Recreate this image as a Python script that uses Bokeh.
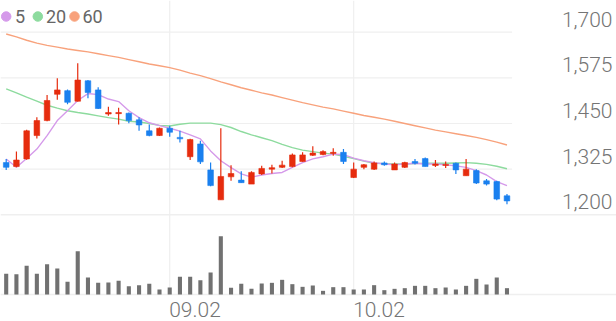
from bokeh.plotting import figure
from bokeh.models import ColumnDataSource, Range1d
from bokeh.core.properties import value
from bokeh.embed import file_html
from bokeh.resources import INLINE

# ---------------- data ----------------
open_ = [1343, 1332, 1353, 1417, 1458, 1530, 1540, 1511, 1567, 1542, 1476, 1477, 1478, 1460, 1430, 1417, 1437, 1412, 1359, 1394,
         1323, 1241, 1304, 1295, 1284, 1312, 1325, 1330, 1332, 1346, 1363, 1365, 1368, 1371, 1302, 1330, 1325, 1342, 1323, 1330,
         1346, 1354, 1335, 1335, 1341, 1307, 1321, 1293, 1291, 1252]
high = [1353, 1373, 1433, 1467, 1528, 1574, 1543, 1615, 1569, 1549, 1496, 1493, 1480, 1467, 1447, 1439, 1444, 1430, 1408, 1403,
        1343, 1437, 1336, 1319, 1319, 1334, 1337, 1348, 1368, 1371, 1388, 1377, 1382, 1380, 1343, 1339, 1346, 1346, 1343, 1345,
        1353, 1357, 1350, 1346, 1343, 1353, 1325, 1298, 1293, 1257]
low = [1323, 1330, 1351, 1409, 1456, 1515, 1503, 1510, 1519, 1490, 1471, 1447, 1451, 1430, 1415, 1416, 1414, 1398, 1350, 1339,
       1278, 1241, 1293, 1288, 1284, 1309, 1313, 1328, 1330, 1345, 1361, 1363, 1362, 1339, 1301, 1325, 1323, 1334, 1323, 1328,
       1338, 1332, 1331, 1328, 1312, 1307, 1284, 1280, 1240, 1229]
close = [1330, 1350, 1430, 1458, 1513, 1542, 1508, 1569, 1535, 1491, 1480, 1480, 1458, 1446, 1417, 1437, 1426, 1408, 1406, 1345,
         1280, 1305, 1313, 1288, 1316, 1327, 1329, 1336, 1364, 1364, 1369, 1373, 1371, 1346, 1325, 1337, 1342, 1337, 1339, 1343,
         1341, 1332, 1339, 1338, 1323, 1325, 1287, 1284, 1243, 1238]
volume = [62, 61, 86, 62, 91, 78, 38, 130, 51, 35, 36, 41, 25, 28, 32, 15, 21, 53, 53, 43,
          66, 175, 20, 32, 17, 33, 35, 44, 31, 23, 27, 11, 22, 22, 15, 15, 28, 13, 17, 19,
          26, 26, 19, 21, 15, 26, 47, 30, 51, 19]
ma5 = [1353, 1330, 1354, 1380, 1417, 1458, 1485, 1513, 1532, 1529, 1517, 1510, 1485, 1466, 1452, 1444, 1437, 1429, 1419, 1408,
       1375, 1348, 1329, 1312, 1303, 1309, 1313, 1316, 1330, 1343, 1353, 1359, 1366, 1365, 1355, 1348, 1343, 1339, 1337, 1339,
       1341, 1339, 1339, 1337, 1334, 1330, 1321, 1309, 1291, 1280]
ma20 = [1545, 1534, 1522, 1511, 1500, 1492, 1485, 1480, 1476, 1471, 1466, 1462, 1456, 1454, 1450, 1445, 1443, 1448, 1451, 1451,
        1451, 1447, 1439, 1428, 1419, 1411, 1403, 1393, 1384, 1377, 1373, 1369, 1366, 1360, 1354, 1347, 1341, 1340, 1339, 1339,
        1340, 1341, 1341, 1341, 1342, 1343, 1341, 1338, 1333, 1326]
ma60 = [1695, 1687, 1678, 1670, 1664, 1659, 1654, 1650, 1646, 1641, 1636, 1631, 1625, 1619, 1613, 1608, 1603, 1596, 1588, 1581,
        1573, 1564, 1556, 1548, 1541, 1534, 1528, 1521, 1514, 1507, 1501, 1495, 1490, 1484, 1478, 1472, 1467, 1462, 1456, 1450,
        1444, 1438, 1432, 1427, 1422, 1417, 1412, 1406, 1399, 1391]
price_ticks = [1200, 1325, 1450, 1575, 1700]
price_labels = ["1,200", "1,325", "1,450", "1,575", "1,700"]
date_ticks = [16, 34]
date_labels = ["09.02", "10.02"]
ma_names = ["5", "20", "60"]

# ---------------- styling / layout ----------------
W, H = 616, 321
UP, DOWN = "#e62c0e", "#1a80ef"
MA_COLORS = ["#d59aea", "#8ddb9e", "#f8a27c"]
GRID = "#efefef"
LABEL = "#757575"
FONT = "Roboto"
FONT_LIGHT = "Roboto Light, Roboto"

X0, DX = 5.7, 10.22            # pixel of first candle, pixels per candle
Y_BASE_PRICE, PX_PER_STEP = 214.3, 45.65   # 1,200 line pixel, pixels per 125
PRICE_PER_PX = 125 / PX_PER_STEP
VOL_BASE_PX, VOL_PER_PX = 294.0, 3.0


def xd(px):
    return (px - X0) / DX


def pd_(py):
    return 1200 + (Y_BASE_PRICE - py) * PRICE_PER_PX


def vd(py):
    return (VOL_BASE_PX - py) * VOL_PER_PX


n = len(close)
idx = list(range(n))
colors = [UP if c >= o else DOWN for o, c in zip(open_, close)]
src = ColumnDataSource(dict(x=idx, open=open_, high=high, low=low, close=close,
                            top=[max(o, c) for o, c in zip(open_, close)],
                            bottom=[min(o, c) for o, c in zip(open_, close)],
                            color=colors, vol=volume,
                            ma5=ma5, ma20=ma20, ma60=ma60))

p = figure(width=W, height=H, output_backend="svg", toolbar_location=None,
           x_axis_type=None, y_axis_type=None,
           x_range=Range1d(xd(0), xd(W)), y_range=Range1d(pd_(H), pd_(0)),
           min_border=0, min_border_left=0, min_border_right=0,
           min_border_top=0, min_border_bottom=0)
p.extra_y_ranges = {"vol": Range1d(vd(H), vd(0))}
p.outline_line_color = None
p.grid.visible = False
p.background_fill_color = "white"
p.border_fill_color = "white"

# grid lines
gx_end = n - 0.5
p.segment(x0=[xd(0)] * 4, x1=[gx_end] * 4, y0=price_ticks[1:], y1=price_ticks[1:],
          line_color=GRID, line_width=1.2)
p.segment(x0=[xd(0)], x1=[xd(W)], y0=[price_ticks[0]], y1=[price_ticks[0]],
          line_color=GRID, line_width=1.5)
p.segment(x0=[xd(0)], x1=[xd(W)], y0=[0], y1=[0], line_color=GRID, line_width=1.5,
          y_range_name="vol")
p.segment(x0=date_ticks, x1=date_ticks, y0=[vd(0)] * len(date_ticks), y1=[0] * len(date_ticks),
          line_color=GRID, line_width=1.2, y_range_name="vol")

# moving averages
for col, c in zip(["ma60", "ma20", "ma5"], MA_COLORS[::-1]):
    p.line("x", col, source=src, line_color=c, line_width=1.4)

# candles
p.segment("x", "high", "x", "low", source=src, line_color="color", line_width=1.2)
p.vbar(x="x", top="top", bottom="bottom", width=0.55, source=src,
       fill_color="color", line_color="color", line_width=0.6)

# volume
p.vbar(x="x", top="vol", bottom=0, width=0.4, source=src, fill_color="#717171",
       line_color=None, y_range_name="vol")

# price labels
p.text(x=[xd(612)] * len(price_ticks), y=price_ticks, text=price_labels,
       text_align="right", text_baseline="middle", y_offset=-13,
       text_font=value(FONT_LIGHT), text_font_size="21px", text_color=LABEL)

# date labels
p.text(x=date_ticks, y=[0] * len(date_ticks), text=date_labels, text_align="left",
       text_baseline="middle", y_offset=15, x_offset=-0.5,
       text_font=value(FONT_LIGHT), text_font_size="21px", text_color=LABEL,
       y_range_name="vol")

# legend
dot_px = [5.7, 37.3, 74.0]
lab_px = [14.5, 45.5, 82.0]
p.scatter(x=[xd(v) for v in dot_px], y=[pd_(16)] * 3, size=9.5, color=MA_COLORS)
p.text(x=[xd(v) for v in lab_px], y=[pd_(16)] * 3, text=ma_names, text_align="left",
       text_baseline="middle", text_font=value(FONT), text_font_size="18px",
       text_color="#666666")

open("out.html", "w").write(file_html(p, INLINE))
